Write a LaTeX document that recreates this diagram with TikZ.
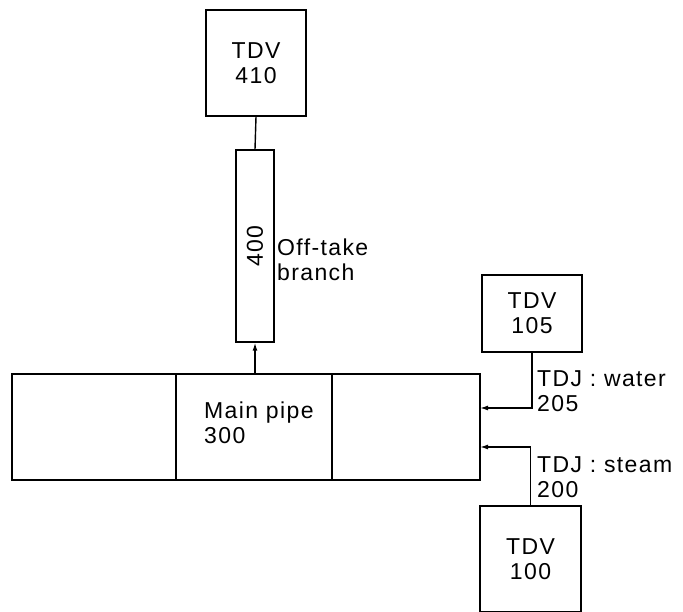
\documentclass[tikz,border=0pt]{standalone}
\usepackage{fontspec}
\setmainfont{Liberation Sans}[LetterSpace=6]
\usetikzlibrary{arrows.meta}
\begin{document}
\begin{tikzpicture}[x=1pt,y=1pt,
  every node/.style={font=\fontsize{23}{25}\selectfont},
  box/.style={draw, line width=1.4pt, inner sep=0pt, align=center},
  lbl/.style={inner sep=0pt, align=left, anchor=north west},
  conn/.style={line width=1.4pt},
  arr/.style={line width=1.4pt, -{Latex[length=8pt,width=5pt]}}]
\useasboundingbox (0,0) rectangle (683,612);
% TDV 410
\node[box, minimum width=100pt, minimum height=106pt] (t410) at (256,549) {TDV\\410};
% off-take branch 400
\node[box, rotate=90, minimum width=192pt, minimum height=38pt] (b400) at (255,366) {400};
\node[lbl] (offl) at (277,373) {Off-take\\branch};
% main pipe
\node[box, minimum width=164pt, minimum height=106pt] (cellL) at (94,185) {};
\node[box, minimum width=156pt, minimum height=106pt] (cellM) at (254,185) {};
\node[box, minimum width=148pt, minimum height=106pt] (cellR) at (406,185) {};
\node[lbl] (mainl) at (204,210) {Main pipe\\300};
% TDV 105
\node[box, minimum width=100pt, minimum height=77pt] (t105) at (532,298.5) {TDV\\105};
% TDV 100
\node[box, minimum width=101pt, minimum height=106pt] (t100) at (530.5,53) {TDV\\100};
% connection points on main pipe
\coordinate (w) at (480,204);
\coordinate (s) at (480,165);
% connectors
\draw[conn] (t410.south) -- (b400.east);
\draw[arr] (b400.west |- cellM.north) -- (b400.west);
\draw[arr] (t105.south) |- (w);
\draw[arr] (t100.north) |- (s);
% labels
\node[lbl] (wl) at (537,242) {TDJ : water\\205};
\node[lbl] (sl) at (537,156) {TDJ : steam\\200};
\end{tikzpicture}
\end{document}
